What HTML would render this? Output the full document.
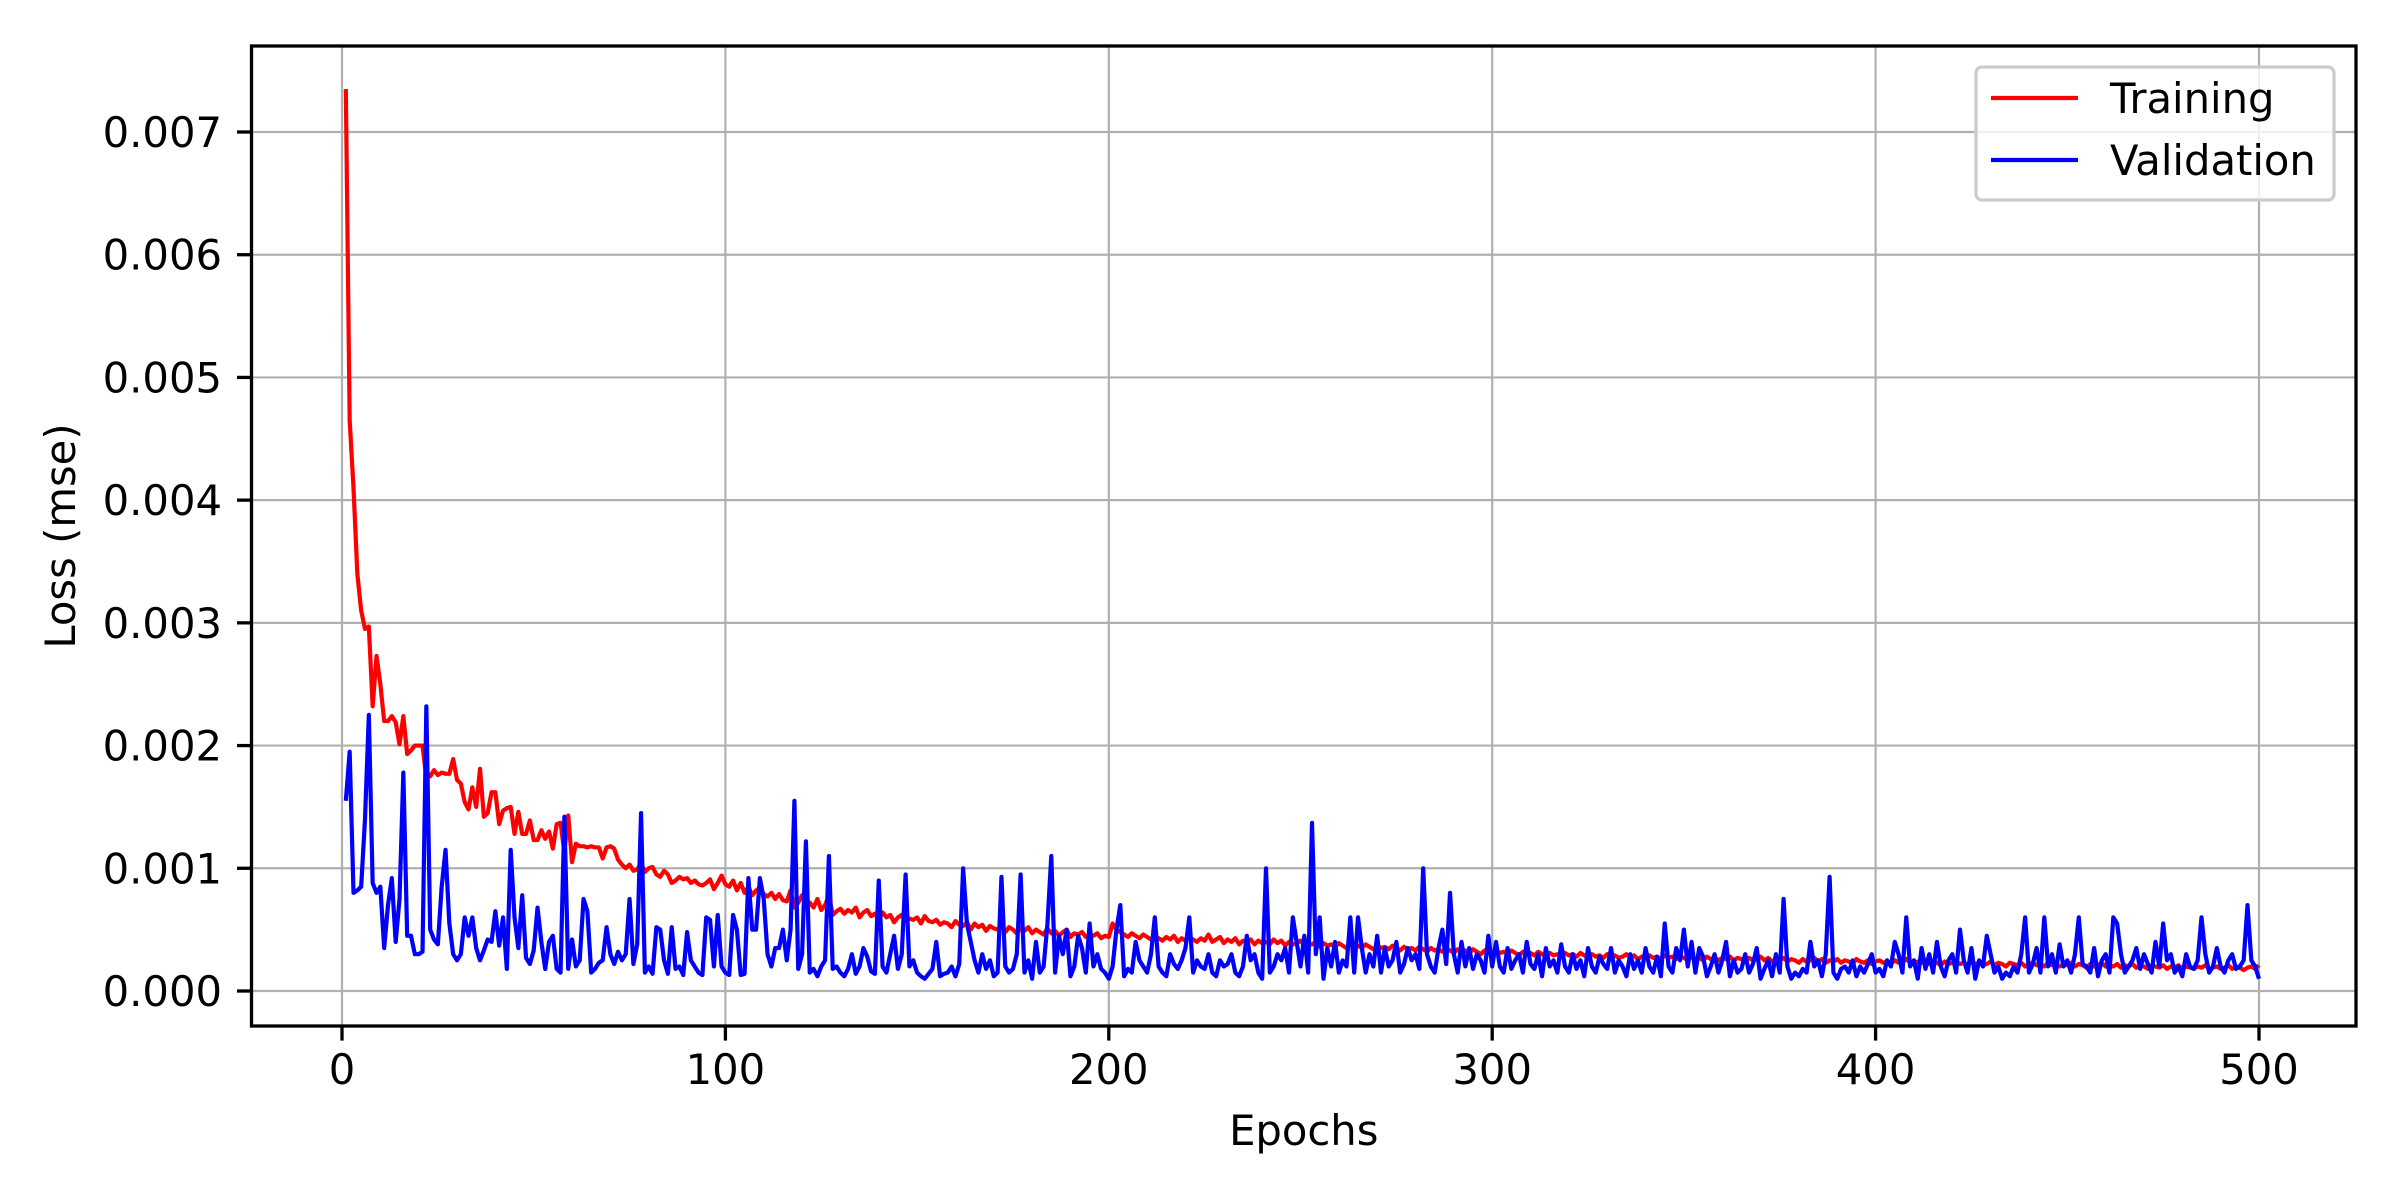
<!DOCTYPE html>
<html><head><meta charset="utf-8"><style>
html,body{margin:0;padding:0;background:#fff;}
svg{display:block;font-family:"DejaVu Sans","Liberation Sans",sans-serif;}
</style></head><body>
<svg id="chart" width="2400" height="1200" viewBox="0 0 2400 1200" xmlns="http://www.w3.org/2000/svg">
<rect width="2400" height="1200" fill="#fff"/>
<g id="grid"></g>
<g id="series"></g>
<rect x="251.5" y="46" width="2104.5" height="980" fill="none" stroke="#000" stroke-width="3.3"/>
<g id="ticks" font-size="41.7" fill="#000"></g>
<text x="1303.75" y="1145" font-size="41.7" text-anchor="middle">Epochs</text>
<text x="0" y="0" font-size="41.7" text-anchor="middle" transform="translate(75,536) rotate(-90)">Loss (mse)</text>
<g>
<rect x="1976" y="67" width="358" height="133" rx="6" fill="#fff" fill-opacity="0.8" stroke="#cccccc" stroke-width="3.3"/>
<line x1="1991" y1="98" x2="2078" y2="98" stroke="#ff0000" stroke-width="4.2"/>
<text x="2110" y="113" font-size="41.7">Training</text>
<line x1="1991" y1="160" x2="2078" y2="160" stroke="#0000ff" stroke-width="4.2"/>
<text x="2110" y="175" font-size="41.7">Validation</text>
</g>
</svg>
<script>
// values in units of 1e-5
const training = [
735,465,410,340,310,295,297,232,273,250,220,220,224,219,201,224,193,196,200,200,
200,174,175,180,176,178,177,177,189,172,169,154,148,166,150,181,142,145,162,162,
136,147,149,150,128,146,128,128,139,123,123,131,124,130,116,136,137,113,143,105,
120,118,118,117,118,117,117,108,117,118,116,107,103,100,103,98,99,104,97,100,
101,95,93,98,95,88,90,93,91,92,88,90,87,86,88,91,83,88,94,87,
85,90,82,88,80,85,78,82,84,79,77,80,75,79,74,73,82,68,72,78,
70,72,68,75,66,70,78,62,65,67,63,66,64,68,60,64,66,61,63,58,
64,60,62,56,60,62,57,59,58,60,55,61,57,56,58,54,56,55,52,57,
54,53,56,50,55,52,54,49,53,51,50,54,48,52,50,47,51,49,52,47,
50,48,46,51,47,49,45,48,50,44,47,46,48,44,46,45,47,43,45,44,
55,50,48,46,44,47,45,43,46,44,42,45,43,41,44,42,45,40,43,41,
44,42,40,43,41,46,40,42,44,39,42,40,43,38,41,40,42,38,41,39,
40,38,42,39,41,37,40,38,39,41,37,39,38,40,36,39,37,38,36,39,
37,35,38,36,37,35,38,36,34,37,35,36,34,37,35,33,36,34,35,33,
36,34,32,35,33,34,32,35,33,31,34,32,33,31,34,32,30,33,31,32,
33,31,32,30,33,31,29,32,30,31,29,32,30,28,31,29,30,28,31,29,
30,28,31,29,27,30,28,29,27,30,28,29,27,28,30,27,29,26,28,27,
29,27,28,26,29,27,28,26,28,27,25,28,26,27,25,28,26,27,25,27,
26,28,25,27,26,24,27,25,26,28,25,27,24,26,25,27,24,26,25,23,
26,24,25,27,24,26,23,25,24,26,23,25,24,22,26,24,23,25,22,24,
25,23,24,22,25,23,24,26,23,22,24,23,25,22,24,23,21,24,22,23,
24,22,23,21,24,22,23,21,22,24,21,23,22,20,23,22,21,23,20,22,
23,21,22,20,23,21,22,20,22,21,23,20,22,21,19,22,20,21,23,20,
21,20,22,19,21,20,22,19,21,20,18,21,20,19,21,18,20,19,21,18,
20,19,18,20,19,21,18,19,20,18,19,21,18,20,19,17,19,20,18,21];
const validation = [
155,195,80,82,85,140,225,88,80,85,35,70,92,40,75,178,45,45,30,30,
32,232,50,42,38,85,115,55,30,25,30,60,45,60,35,25,33,42,40,65,
37,60,18,115,60,35,78,27,22,33,68,40,18,40,45,18,15,142,18,42,
20,25,75,65,15,18,23,25,52,30,22,32,25,30,75,22,38,145,15,20,
14,52,50,25,14,52,18,20,13,48,25,20,15,13,60,58,20,62,20,15,
13,62,50,13,14,92,50,50,92,75,30,20,35,35,50,25,50,155,18,30,
122,15,18,12,20,25,110,18,20,15,12,18,30,14,20,35,28,16,14,90,
20,15,30,45,18,30,95,20,25,15,12,10,14,18,40,12,14,15,20,12,
22,100,55,40,25,15,30,18,25,12,15,93,20,15,18,30,95,15,25,10,
40,15,20,55,110,15,45,30,50,12,20,45,35,15,55,20,30,18,15,10,
20,50,70,12,18,15,40,25,20,15,30,60,20,15,12,30,22,18,25,35,
60,15,25,20,18,30,15,12,25,20,22,30,15,12,20,45,25,30,15,10,
100,15,20,30,25,35,15,60,40,20,45,15,137,30,60,10,35,20,40,15,
25,20,60,15,60,35,15,30,20,45,15,35,20,25,40,15,22,35,25,30,
18,100,30,20,15,35,50,22,80,30,15,40,20,35,18,30,25,15,45,20,
40,20,15,35,18,25,30,15,40,22,18,30,12,35,20,25,15,38,20,15,
30,18,25,12,35,20,15,28,22,18,35,15,25,20,12,30,18,25,15,35,
20,15,28,12,55,20,15,35,25,50,20,40,15,35,28,12,20,30,15,25,
40,12,25,15,18,30,15,22,35,10,18,25,12,30,15,75,20,10,15,12,
18,15,40,20,25,12,30,93,15,10,18,20,15,25,12,20,15,22,30,15,
18,12,25,20,40,30,15,60,20,25,10,35,18,30,15,40,20,12,25,30,
15,50,25,15,35,10,25,20,45,30,15,20,10,15,12,20,15,30,60,15,
22,35,15,60,20,30,15,38,20,25,15,30,60,22,20,15,35,12,25,30,
15,60,55,30,15,20,25,35,18,30,22,15,40,20,55,25,30,15,20,12,
30,20,18,25,60,30,15,20,35,20,15,25,30,18,20,25,70,25,20,10];
const xTicks = [0,100,200,300,400,500];
const yTicks = [0,0.001,0.002,0.003,0.004,0.005,0.006,0.007];
const yTickLabels = ["0.000","0.001","0.002","0.003","0.004","0.005","0.006","0.007"];

const NS = "http://www.w3.org/2000/svg";
function xs(e){ return 342 + (e/500)*(2259-342); }
function ys(v){ return 991 - (v/0.007)*(991-132); }
function mk(tag, attrs, parent){
  const el = document.createElementNS(NS, tag);
  for (const k in attrs) el.setAttribute(k, attrs[k]);
  parent.appendChild(el); return el;
}
const grid = document.getElementById('grid');
const ticks = document.getElementById('ticks');
const series = document.getElementById('series');
xTicks.forEach(t => {
  const x = xs(t);
  const g = mk('line', {x1:x, x2:x, y1:46, y2:1026, stroke:'#b0b0b0', 'stroke-width':2.2}, grid);
  
  
  const tk = mk('line', {x1:x, x2:x, y1:1026, y2:1040.6, stroke:'#000', 'stroke-width':3.3}, ticks);
  
  
  const lb = mk('text', {x:x, y:1084, 'text-anchor':'middle'}, ticks);
  lb.textContent = String(t);
  
  
});
yTicks.forEach((t, i) => {
  const y = ys(t);
  const g = mk('line', {x1:251.5, x2:2356, y1:y, y2:y, stroke:'#b0b0b0', 'stroke-width':2.2}, grid);
  
  
  const tk = mk('line', {x1:237, x2:251.5, y1:y, y2:y, stroke:'#000', 'stroke-width':3.3}, ticks);
  
  
  const lb = mk('text', {x:222, y:y+15, 'text-anchor':'end'}, ticks);
  lb.textContent = yTickLabels[i];
  
  
});
function pathFor(arr){
  return arr.map((v,i) => (i?'L':'M') + xs(i+1).toFixed(2) + ',' + ys(v*1e-5).toFixed(2)).join(' ');
}
const pt = mk('path', {d:pathFor(training), fill:'none', stroke:'#ff0000', 'stroke-width':4.2, 'stroke-linejoin':'round'}, series);


const pv = mk('path', {d:pathFor(validation), fill:'none', stroke:'#0000ff', 'stroke-width':4.2, 'stroke-linejoin':'round'}, series);


</script>
</body></html>
